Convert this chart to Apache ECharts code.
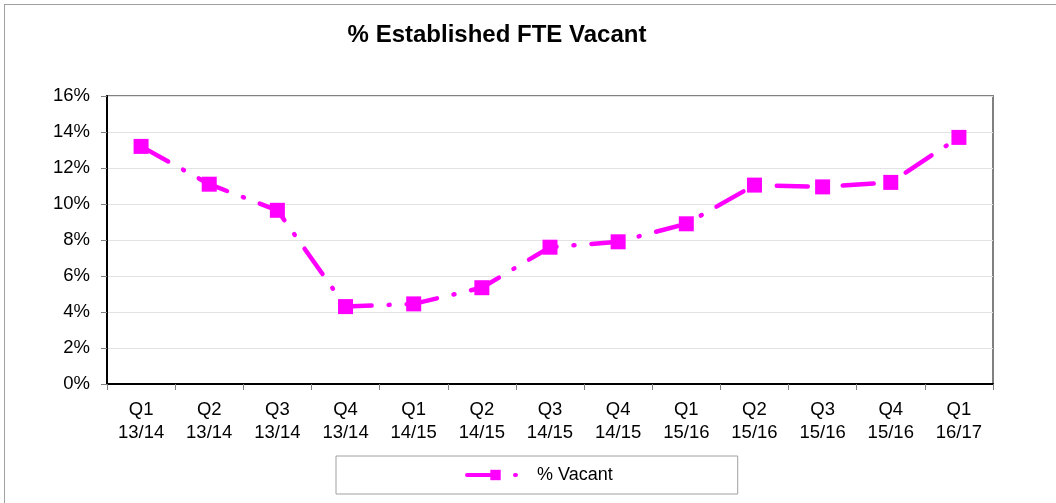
<!DOCTYPE html>
<html>
<head>
<meta charset="utf-8">
<script src="https://cdn.jsdelivr.net/npm/echarts@6/dist/echarts.min.js"></script>
<style>
    html, body { margin: 0; padding: 0; background: #fff; }
    #wrap { position: relative; width: 1056px; height: 503px; overflow: hidden; }
    #frame { position: absolute; left: 4px; top: 4px; width: 1100px; height: 600px; border: 1px solid #a0a0a0; box-sizing: border-box; }
    #chart { position: absolute; left: 0; top: 0; width: 1056px; height: 503px; }
</style>
</head>
<body>
<div id="wrap">
    <div id="frame"></div>
    <div id="chart"></div>
</div>
<script>
    // quarters shown on the x axis
    var quarters = ['Q1\n13/14', 'Q2\n13/14', 'Q3\n13/14', 'Q4\n13/14',
        'Q1\n14/15', 'Q2\n14/15', 'Q3\n14/15', 'Q4\n14/15',
        'Q1\n15/16', 'Q2\n15/16', 'Q3\n15/16', 'Q4\n15/16', 'Q1\n16/17'];
    // % vacant
    var vacant = [13.2, 11.1, 9.65, 4.3, 4.45, 5.35, 7.6, 7.9, 8.9, 11.05, 10.95, 11.2, 13.7];
    var yTicks = [0, 2, 4, 6, 8, 10, 12, 14, 16];

    var font = 'Liberation Sans, Arial, sans-serif';
    var pink = '#ff00ff';

    var myChart = echarts.init(document.getElementById('chart'));
    myChart.setOption({
        animation: false,
        title: {
            text: '% Established FTE Vacant',
            left: 492, top: 18, textAlign: 'center',
            textStyle: { fontFamily: font, fontSize: 24, fontWeight: 'bold', color: '#000' }
        },
        grid: { left: 107, right: 63, top: 96, bottom: 119, show: true, borderColor: '#808080', borderWidth: 2, backgroundColor: 'transparent' },
        legend: {
            bottom: 9, left: 336,
            padding: [10, 125, 10, 129],
            borderColor: '#a0a0a0', borderWidth: 1,
            itemWidth: 57, itemHeight: 13, itemGap: 0,
            lineStyle: { width: 4 },
            textStyle: { fontFamily: font, fontSize: 18, color: '#000', padding: [0, 0, 0, 8] },
            data: ['% Vacant']
        },
        xAxis: {
            type: 'category',
            data: quarters,
            boundaryGap: true,
            axisLine: { lineStyle: { color: '#000', width: 2 } },
            axisTick: { show: true, length: 6, lineStyle: { color: '#808080' } },
            axisLabel: { fontFamily: font, fontSize: 18.5, color: '#000', lineHeight: 23, margin: 14 },
            splitLine: { show: false }
        },
        yAxis: {
            type: 'value',
            min: yTicks[0], max: yTicks[yTicks.length - 1], interval: 2,
            axisLine: { show: true, lineStyle: { color: '#000', width: 2 } },
            axisTick: { show: true, length: 6, lineStyle: { color: '#808080' } },
            axisLabel: { fontFamily: font, fontSize: 18.5, color: '#000', margin: 17, formatter: '{value}%' },
            splitLine: { show: true, lineStyle: { color: '#e3e3e3', width: 1 } }
        },
        series: [{
            name: '% Vacant',
            type: 'line',
            data: vacant,
            symbol: 'rect',
            symbolSize: 15,
            itemStyle: { color: pink },
            lineStyle: { color: pink, width: 4.5, type: [31, 17, 1, 17], cap: 'round' },
            emphasis: { disabled: true }
        }]
    });
</script>
</body>
</html>
